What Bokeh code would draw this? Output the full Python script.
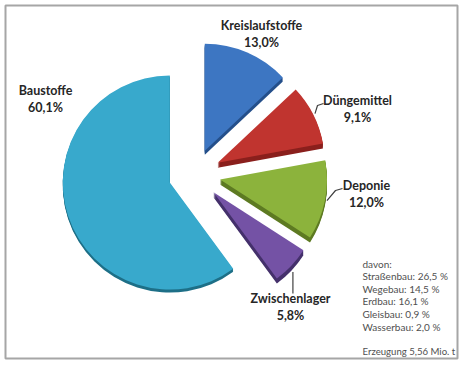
import math
from bokeh.plotting import figure
from bokeh.models import Range1d
from bokeh.core.properties import value
from bokeh.embed import file_html
from bokeh.resources import INLINE

# ---- data ----
categories = ["Kreislaufstoffe", "Düngemittel", "Deponie", "Zwischenlager", "Baustoffe"]
shares = [13.0, 9.1, 12.0, 5.8, 60.1]
sub_categories = ["Straßenbau", "Wegebau", "Erdbau", "Gleisbau", "Wasserbau"]
sub_shares = [26.5, 14.5, 16.1, 0.9, 2.0]
total_text = "Erzeugung 5,56 Mio. t"

# ---- styles / layout ----
top_colors = ["#3d76c2", "#c0342f", "#8cb33c", "#7452a5", "#38a9cc"]
side_colors = ["#244f8a", "#8a1f1c", "#5d7a22", "#44306b", "#1d6f87"]
depths = [4, 5, 5, 5, 3]
W, H = 460, 362
IMG_H = 366      # data y = IMG_H - image pixel row
FX0, FX1, FY0, FY1 = 5, 457, 5, 358   # frame box in image pixels
CX, CY = 194, IMG_H - 174   # pie centre
R = 107
EXPLODE = 26

# label anchors (image pixels): name line centre
label_pos = [(261, 25), (357, 100), (366, 185), (290, 298), (45, 90)]
# leader end points (image pixels) or None
leaders = [None, [(317, 105), (323, 103)], [(335, 190), (342, 188)], [(0, 0), None], None]

p = figure(width=W, height=H, output_backend="svg", toolbar_location=None,
           x_range=Range1d(FX0, FX1), y_range=Range1d(IMG_H - FY1, IMG_H - FY0),
           min_border_left=FX0, min_border_top=FY0,
           min_border_right=W - FX1, min_border_bottom=H - FY1)
p.axis.visible = False
p.grid.visible = False
p.outline_line_color = "#a6a6a6"
p.outline_line_width = 2
p.background_fill_color = "white"
p.border_fill_color = "white"

cum = 0.0
geo = []
for cat, v in zip(categories, shares):
    th0 = cum
    th1 = cum + v * 3.6
    cum = th1
    start = math.radians(90 - th1)
    end = math.radians(90 - th0)
    mid = math.radians(90 - (th0 + th1) / 2)
    ax = CX + EXPLODE * math.cos(mid)
    ay = CY + EXPLODE * math.sin(mid)
    geo.append((start, end, mid, ax, ay))

# sides (extrusion)
for i, (start, end, mid, ax, ay) in enumerate(geo):
    for d in range(1, depths[i] + 1):
        p.wedge(x=[ax], y=[ay - d], radius=R, start_angle=[start], end_angle=[end],
                fill_color=side_colors[i], line_color=None)
# tops
for i, (start, end, mid, ax, ay) in enumerate(geo):
    p.wedge(x=[ax], y=[ay], radius=R, start_angle=[start], end_angle=[end],
            fill_color=top_colors[i], line_color=None)

# leader lines
for i, (start, end, mid, ax, ay) in enumerate(geo):
    L = leaders[i]
    if L is None:
        continue
    sx = ax + (R + 2) * math.cos(mid)
    sy = ay + (R + 2) * math.sin(mid) - (depths[i] if i == 3 else 0)
    if i == 3:
        xs = [sx, sx]
        ys = [sy, IMG_H - 293]
    else:
        xs = [sx] + [q[0] for q in L]
        ys = [sy] + [IMG_H - q[1] for q in L]
    p.line(xs, ys, line_color="#404040", line_width=1.2)

# labels
pct = [f"{v:.1f}%".replace(".", ",") for v in shares]
lx = [q[0] for q in label_pos]
p.text(x=lx, y=[IMG_H - q[1] for q in label_pos], text=categories,
       text_font=value("Lato"), text_font_style="bold", text_font_size="12.5px",
       text_color="#262626", text_align="center", text_baseline="middle")
p.text(x=lx, y=[IMG_H - q[1] - 16.5 for q in label_pos], text=pct,
       text_font=value("Lato"), text_font_style="bold", text_font_size="12.5px",
       text_color="#262626", text_align="center", text_baseline="middle")

# annotation block
lines = ["davon:"] + [f"{c}: {v:.1f} %".replace(".", ",") for c, v in zip(sub_categories, sub_shares)]
ys = [IMG_H - (263 + 12.6 * k) for k in range(len(lines))]
p.text(x=[362] * len(lines), y=ys, text=lines,
       text_font=value("Lato"), text_font_size="10px", text_color="#505050",
       text_align="left", text_baseline="middle")
p.text(x=[362], y=[IMG_H - 351], text=[total_text],
       text_font=value("Lato"), text_font_size="9.6px", text_color="#505050",
       text_align="left", text_baseline="middle")

open("out.html", "w").write(file_html(p, INLINE))
